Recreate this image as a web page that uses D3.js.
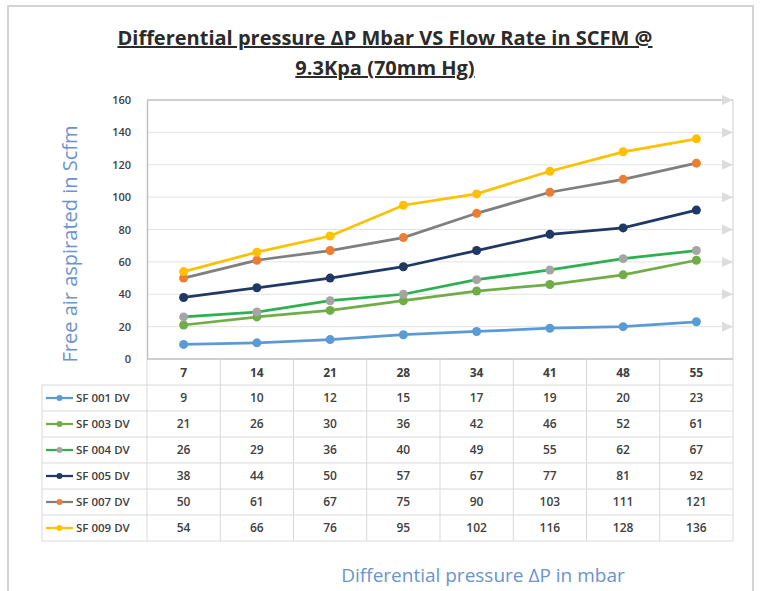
<!DOCTYPE html>
<html>
<head>
<meta charset="utf-8">
<script src="https://cdn.jsdelivr.net/npm/d3@7"></script>
<style>
  body { margin: 0; background: #fff; }
  svg text { font-family: "Open Sans", "Liberation Sans", sans-serif; }
</style>
</head>
<body>
<div id="chart"></div>
<script>
// chart data
var pressures = [7, 14, 21, 28, 34, 41, 48, 55];
var seriesNames = ["SF 001 DV", "SF 003 DV", "SF 004 DV", "SF 005 DV", "SF 007 DV", "SF 009 DV"];
var sf001 = [9, 10, 12, 15, 17, 19, 20, 23];
var sf003 = [21, 26, 30, 36, 42, 46, 52, 61];
var sf004 = [26, 29, 36, 40, 49, 55, 62, 67];
var sf005 = [38, 44, 50, 57, 67, 77, 81, 92];
var sf007 = [50, 61, 67, 75, 90, 103, 111, 121];
var sf009 = [54, 66, 76, 95, 102, 116, 128, 136];
var yTicks = [0, 20, 40, 60, 80, 100, 120, 140, 160];

var lineColors = ["#5b9bd5", "#70ad47", "#2db04f", "#203864", "#7f7f7f", "#ffc000"];
var dotColors  = ["#5b9bd5", "#70ad47", "#a5a5a5", "#203864", "#ed7d31", "#ffc000"];

(function () {
    var W = 760, H = 591;
    var plotL = 147, plotR = 733, plotT = 100, plotB = 359;
    var rowH = 26, tableLeft = 42;

    var svg = d3.select("#chart").append("svg")
        .attr("width", W)
        .attr("height", H);

    // outer frame
    svg.append("rect")
        .attr("x", 8).attr("y", 6)
        .attr("width", 745).attr("height", 600)
        .attr("fill", "none")
        .attr("stroke", "#d4d4d4")
        .attr("stroke-width", 2);

    var x = d3.scaleBand().domain(pressures).range([plotL, plotR]);
    var y = d3.scaleLinear().domain([0, 160]).range([plotB, plotT]);

    // title
    var title = svg.append("text")
        .attr("text-anchor", "middle")
        .attr("font-size", 20)
        .attr("font-weight", "bold")
        .attr("fill", "#2b2b2b")
        .attr("text-decoration", "underline");
    title.append("tspan").attr("x", 385).attr("y", 45)
        .text("Differential pressure \u0394P Mbar VS Flow Rate in SCFM @");
    title.append("tspan").attr("x", 385).attr("y", 75)
        .text("9.3Kpa (70mm Hg)");

    // gridlines
    svg.append("g").selectAll("line")
        .data(yTicks.filter(function (d) { return d > 0; }))
        .enter().append("line")
        .attr("x1", plotL).attr("x2", plotR)
        .attr("y1", function (d) { return y(d); })
        .attr("y2", function (d) { return y(d); })
        .attr("stroke", function (d) { return d == 160 ? "#bfbfbf" : "#e3e3e3"; })
        .attr("stroke-width", function (d) { return d == 160 ? 1.5 : 1; });

    // little arrow heads on the right of every gridline
    svg.append("g").selectAll("path")
        .data(yTicks.filter(function (d) { return d > 0; }))
        .enter().append("path")
        .attr("d", function (d) {
            var yy = y(d);
            return "M" + (plotR - 11) + "," + (yy - 5) + "L" + plotR + "," + yy + "L" + (plotR - 11) + "," + (yy + 5) + "Z";
        })
        .attr("fill", "#dcdcdc");

    // plot frame
    svg.append("line").attr("x1", plotR).attr("x2", plotR).attr("y1", plotT).attr("y2", plotB)
        .attr("stroke", "#d0d0d0");
    svg.append("line").attr("x1", plotL).attr("x2", plotR).attr("y1", plotB).attr("y2", plotB)
        .attr("stroke", "#bfbfbf").attr("stroke-width", 1.5);

    // y axis
    var yAxis = svg.append("g")
        .attr("transform", "translate(" + plotL + ",0)")
        .call(d3.axisLeft(y).tickValues(yTicks).tickSize(0).tickPadding(16));
    yAxis.select(".domain").attr("stroke", "#bfbfbf").attr("stroke-width", 1.5);
    yAxis.selectAll("text")
        .attr("font-family", "'Open Sans', sans-serif")
        .attr("font-size", 11)
        .attr("font-weight", 600)
        .attr("fill", "#404040");

    svg.append("text")
        .attr("transform", "translate(77,244) rotate(-90)")
        .attr("text-anchor", "middle")
        .attr("font-size", 20)
        .attr("fill", "#6a93cf")
        .text("Free air aspirated in Scfm");

    // data table below the plot
    var tableBottom = plotB + rowH * 7;
    var tbl = svg.append("g");

    // vertical lines at band boundaries
    var bounds = pressures.map(function (p) { return x(p); }).concat([plotR]);
    tbl.selectAll(".vline").data(bounds).enter().append("line")
        .attr("class", "vline")
        .attr("x1", function (d) { return d; }).attr("x2", function (d) { return d; })
        .attr("y1", plotB).attr("y2", tableBottom)
        .attr("stroke", "#d9d9d9");
    tbl.append("line").attr("x1", tableLeft).attr("x2", tableLeft)
        .attr("y1", plotB + rowH).attr("y2", tableBottom).attr("stroke", "#d9d9d9");

    // horizontal row lines
    var rowLines = d3.range(1, 8).map(function (i) { return plotB + rowH * i; });
    tbl.selectAll(".hline").data(rowLines).enter().append("line")
        .attr("class", "hline")
        .attr("x1", tableLeft).attr("x2", plotR)
        .attr("y1", function (d) { return d; }).attr("y2", function (d) { return d; })
        .attr("stroke", "#d9d9d9");

    // category header row
    tbl.selectAll(".cat").data(pressures).enter().append("text")
        .attr("class", "cat")
        .attr("x", function (d) { return x(d) + x.bandwidth() / 2; })
        .attr("y", plotB + 18)
        .attr("text-anchor", "middle")
        .attr("font-size", 12)
        .attr("font-weight", "bold")
        .attr("fill", "#404040")
        .text(function (d) { return d; });

    var allSeries = [sf001, sf003, sf004, sf005, sf007, sf009];

    allSeries.forEach(function (vals, k) {
        var rowY = plotB + rowH * (k + 1) + rowH / 2;

        // legend key
        tbl.append("line")
            .attr("x1", 46).attr("x2", 73)
            .attr("y1", rowY).attr("y2", rowY)
            .attr("stroke", lineColors[k]).attr("stroke-width", 2.25);
        tbl.append("circle")
            .attr("cx", 59.5).attr("cy", rowY).attr("r", 3)
            .attr("fill", dotColors[k]);
        tbl.append("text")
            .attr("x", 76).attr("y", rowY + 4)
            .attr("font-size", 11.5)
            .attr("font-weight", 600)
            .attr("fill", "#404040")
            .text(seriesNames[k]);

        // values
        tbl.selectAll(".v" + k).data(vals).enter().append("text")
            .attr("class", "v" + k)
            .attr("x", function (d, i) { return x(pressures[i]) + x.bandwidth() / 2; })
            .attr("y", rowY + 4)
            .attr("text-anchor", "middle")
            .attr("font-size", 12)
            .attr("font-weight", 600)
            .attr("fill", "#404040")
            .text(function (d) { return d; });
    });

    // the lines
    var line = d3.line()
        .x(function (d, i) { return x(pressures[i]) + x.bandwidth() / 2; })
        .y(function (d) { return y(d); });

    allSeries.forEach(function (vals, k) {
        svg.append("path")
            .datum(vals)
            .attr("d", line)
            .attr("fill", "none")
            .attr("stroke", lineColors[k])
            .attr("stroke-width", 2.75);
        svg.append("g").selectAll("circle").data(vals).enter().append("circle")
            .attr("cx", function (d, i) { return x(pressures[i]) + x.bandwidth() / 2; })
            .attr("cy", function (d) { return y(d); })
            .attr("r", 4.5)
            .attr("fill", dotColors[k]);
    });

    svg.append("text")
        .attr("x", 483).attr("y", 582)
        .attr("text-anchor", "middle")
        .attr("font-size", 19)
        .attr("fill", "#6a93cf")
        .text("Differential pressure \u0394P in mbar");
})();
</script>
</body>
</html>
